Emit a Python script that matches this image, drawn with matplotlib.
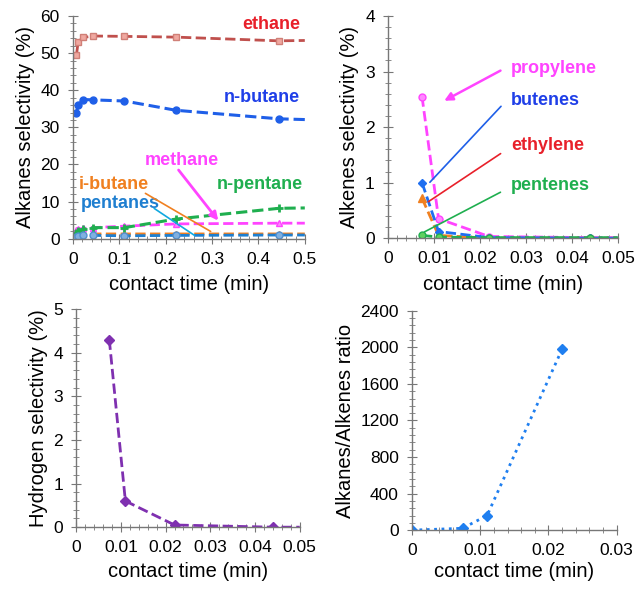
"""Selectivity panels: alkanes, alkenes, hydrogen and alkanes/alkenes ratio vs contact time."""

import matplotlib
matplotlib.use("Agg")
import matplotlib.pyplot as plt
from matplotlib.ticker import MultipleLocator, FuncFormatter

plt.rcParams['font.family'] = ['Liberation Sans', 'DejaVu Sans']

# contact times (min)
t_alk = [0.0074, 0.011, 0.022, 0.044, 0.111, 0.222, 0.444, 0.5]
t_short = [0.0074, 0.011, 0.022, 0.044, 0.05]
t_ratio = [0.0, 0.0074, 0.011, 0.022]

# alkanes selectivity (%)
ethane = [49.5, 53.0, 54.2, 54.6, 54.5, 54.3, 53.3, 53.4]
n_butane = [34.0, 36.0, 37.5, 37.4, 37.1, 34.6, 32.3, 32.1]
n_pentane = [1.5, 2.0, 2.5, 3.0, 3.0, 5.3, 8.2, 8.3]
methane = [2.3, 2.6, 2.8, 3.0, 3.4, 4.0, 4.2, 4.2]
i_butane = [1.2, 1.3, 1.3, 1.3, 1.3, 1.3, 1.3, 1.3]
pentanes = [0.6, 0.8, 0.9, 0.9, 0.8, 0.9, 1.0, 1.0]

# alkenes selectivity (%)
propylene = [2.55, 0.35, 0.03, 0.01, 0.01]
butenes = [1.0, 0.12, 0.01, 0.0, 0.0]
ethylene = [0.72, 0.05, 0.0, 0.0, 0.0]
pentenes = [0.05, 0.02, 0.01, 0.01, 0.01]

# hydrogen selectivity (%)
hydrogen = [4.3, 0.6, 0.05, 0.0, 0.0]

# alkanes / alkenes ratio
ratio = [0, 20, 160, 1980]

fig = plt.figure(figsize=(6.35, 5.91), dpi=100)

tick_fmt = FuncFormatter(lambda v, pos: '0' if abs(v) < 1e-12 else f'{v:g}')


def style_axes(ax, xmax, xmaj, xmin, ymax, ymaj, ymin, ylabel):
    ax.set_xlim(0, xmax)
    ax.set_ylim(0, ymax)
    for s in ['top', 'right']:
        ax.spines[s].set_visible(False)
    for s in ['left', 'bottom']:
        ax.spines[s].set_color('#777777')
        ax.spines[s].set_linewidth(1.0)
    ax.xaxis.set_major_locator(MultipleLocator(xmaj))
    ax.xaxis.set_minor_locator(MultipleLocator(xmin))
    ax.yaxis.set_major_locator(MultipleLocator(ymaj))
    ax.yaxis.set_minor_locator(MultipleLocator(ymin))
    ax.xaxis.set_major_formatter(tick_fmt)
    ax.yaxis.set_major_formatter(tick_fmt)
    ax.tick_params(which='major', direction='inout', length=7, color='#777777',
                   labelsize=12.5, pad=6)
    ax.tick_params(which='minor', direction='inout', length=4, color='#777777')
    ax.set_xlabel('contact time (min)', fontsize=14.5, labelpad=6)
    ax.set_ylabel(ylabel, fontsize=14.5, labelpad=4)


# --- alkanes ---
ax1 = fig.add_axes([0.115, 0.596, 0.365, 0.377])
me = list(range(len(t_alk) - 1))
ax1.plot(t_alk, ethane, '--', color='#C0504D', lw=2, marker='s', ms=5,
         mfc='#F0A8A0', mec='#D08078', markevery=me)
ax1.plot(t_alk, n_butane, '--', color='#1F5FE8', lw=2.2, marker='o', ms=5,
         mfc='#1F5FE8', mec='#1F5FE8', markevery=me)
ax1.plot(t_alk, methane, '--', color='#FF44FF', lw=2, marker='^', ms=5,
         mfc='#FF88FF', mec='#FF44FF', markevery=me)
ax1.plot(t_alk, i_butane, '--', color='#F08020', lw=2, marker='^', ms=4,
         mfc='#F08020', mec='#F08020', markevery=me)
ax1.plot(t_alk, n_pentane, '--', color='#1FAF4F', lw=2.2, marker='+', ms=6,
         mew=2, markevery=me)
ax1.plot(t_alk, pentanes, '--', color='#1F7FD0', lw=2, marker='o', ms=5,
         mfc='#80B0E0', mec='#5090D0', markevery=me)
style_axes(ax1, 0.5, 0.1, 0.02, 60, 10, 2, 'Alkanes selectivity (%)')
ax1.text(0.49, 57.8, 'ethane', color='#E8202A', fontsize=13, fontweight='bold',
         ha='right', va='center')
ax1.text(0.49, 38.0, 'n-butane', color='#1F3FE8', fontsize=13, fontweight='bold',
         ha='right', va='center')
ax1.text(0.235, 21.0, 'methane', color='#FF44FF', fontsize=13, fontweight='bold',
         ha='center', va='center')
ax1.text(0.403, 14.5, 'n-pentane', color='#1FAF4F', fontsize=13, fontweight='bold',
         ha='center', va='center')
ax1.text(0.012, 14.5, 'i-butane', color='#F08020', fontsize=13, fontweight='bold',
         ha='left', va='center')
ax1.text(0.016, 9.5, 'pentanes', color='#1F7FD0', fontsize=13, fontweight='bold',
         ha='left', va='center')
ax1.annotate('', xy=(0.317, 4.3), xytext=(0.224, 19.1),
             arrowprops=dict(arrowstyle='-|>', color='#FF44FF', lw=2, mutation_scale=12))
ax1.annotate('', xy=(0.302, 1.6), xytext=(0.151, 12.6),
             arrowprops=dict(arrowstyle='-', color='#F08020', lw=1.2))
ax1.annotate('', xy=(0.267, 0.5), xytext=(0.17, 8.6),
             arrowprops=dict(arrowstyle='-', color='#10A8E0', lw=1.2))

# --- alkenes ---
ax2 = fig.add_axes([0.611, 0.597, 0.362, 0.376])
ax2.plot(t_short, propylene, '--', color='#FF44FF', lw=2, marker='o', ms=5,
         mfc='#FF88FF', mec='#FF44FF', markevery=[0, 1, 2, 3])
ax2.plot(t_short, ethylene, '--', color='#F08020', lw=2, marker='^', ms=6,
         mfc='#F08020', mec='#F08020', markevery=[0, 1, 2, 3])
ax2.plot(t_short, butenes, '--', color='#1F6FF0', lw=2, marker='D', ms=4,
         mfc='#1F6FF0', mec='#1F6FF0', markevery=[0, 1, 2, 3])
ax2.plot(t_short, pentenes, '--', color='#1FAF4F', lw=2, marker='o', ms=5,
         mfc='#60D060', mec='#1FAF4F', markevery=[0, 1, 2, 3])
style_axes(ax2, 0.05, 0.01, 0.002, 4, 1, 0.2, 'Alkenes selectivity (%)')
ax2.text(0.0268, 3.06, 'propylene', color='#FF44FF', fontsize=13, fontweight='bold',
         ha='left', va='center')
ax2.text(0.0268, 2.47, 'butenes', color='#1F3FE8', fontsize=13, fontweight='bold',
         ha='left', va='center')
ax2.text(0.0268, 1.66, 'ethylene', color='#E8202A', fontsize=13, fontweight='bold',
         ha='left', va='center')
ax2.text(0.0268, 0.94, 'pentenes', color='#1FAF4F', fontsize=13, fontweight='bold',
         ha='left', va='center')
ax2.annotate('', xy=(0.0117, 2.45), xytext=(0.025, 3.04),
             arrowprops=dict(arrowstyle='-|>', color='#FF44FF', lw=1.8, mutation_scale=12))
ax2.annotate('', xy=(0.0087, 0.97), xytext=(0.025, 2.41),
             arrowprops=dict(arrowstyle='-', color='#1F5FE8', lw=1.2))
ax2.annotate('', xy=(0.0083, 0.63), xytext=(0.025, 1.55),
             arrowprops=dict(arrowstyle='-', color='#E8202A', lw=1.2))
ax2.annotate('', xy=(0.0074, 0.09), xytext=(0.025, 0.85),
             arrowprops=dict(arrowstyle='-', color='#1FAF4F', lw=1.2))

# --- hydrogen ---
ax3 = fig.add_axes([0.120, 0.108, 0.352, 0.369])
ax3.plot(t_short, hydrogen, '--', color='#7F30B0', lw=2, marker='D', ms=5,
         mfc='#7F30B0', mec='#7F30B0', markevery=[0, 1, 2, 3])
style_axes(ax3, 0.05, 0.01, 0.002, 5, 1, 0.2, 'Hydrogen selectivity (%)')
ax3.xaxis.labelpad = 5

# --- ratio ---
ax4 = fig.add_axes([0.649, 0.103, 0.322, 0.371])
ax4.plot(t_ratio, ratio, ':', color='#1F7FF0', lw=2, marker='D', ms=5,
         mfc='#1F7FF0', mec='#1F7FF0')
style_axes(ax4, 0.03, 0.01, 0.002, 2400, 400, 80, 'Alkanes/Alkenes ratio')
ax4.xaxis.labelpad = 3

fig.savefig('out.png', dpi=100)
